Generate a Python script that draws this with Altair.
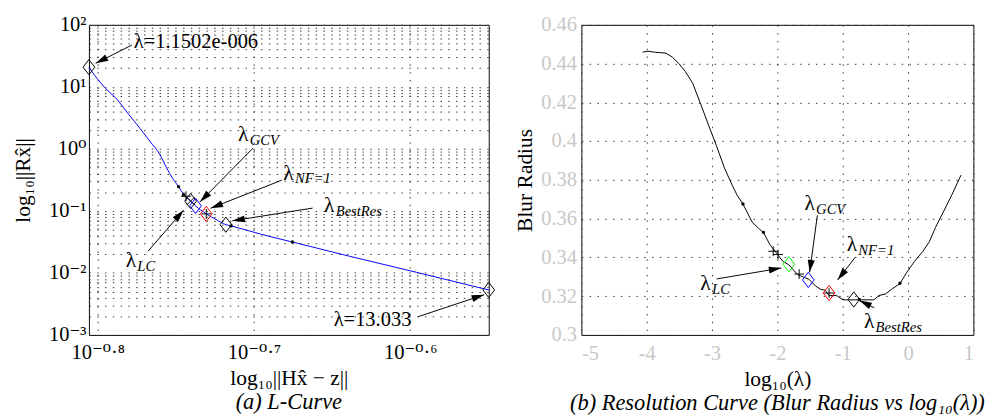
import math
import altair as alt
import pandas as pd

SERIF = "Liberation Serif, DejaVu Serif, serif"

# ---------------- (a) L-curve data ----------------
lc_resid = [0.15643, 0.15704, 0.16004, 0.16317, 0.16556, 0.16875, 0.17122, 0.17368,
            0.17533, 0.17701, 0.17853, 0.17986, 0.18173, 0.18305, 0.18597, 0.18885,
            0.19143, 0.19292, 0.20147, 0.21115, 0.22930, 0.25357, 0.28203]
lc_norm = [20.75, 17.99, 9.886, 6.152, 3.819, 2.104, 1.306, 0.8091,
           0.5035, 0.3311, 0.2460, 0.1828, 0.1440, 0.1205, 0.0895, 0.07173,
           0.05998, 0.05726, 0.04224, 0.03150, 0.01877, 0.010216, 0.005309]

lc_diam_black_x = [0.15643, 0.28203, 0.18173, 0.19143]
lc_diam_black_y = [20.75, 0.005309, 0.1440, 0.05998]
lc_diam_blue = (0.18305, 0.1205)
lc_diam_red = (0.18597, 0.0895)
lc_plus_x = [0.18048, 0.18597]
lc_plus_y = [0.1722, 0.0895]
lc_cross_x = [0.18173]
lc_cross_y = [0.1440]
lc_dot_x = [0.17853, 0.17986, 0.19292, 0.21115]
lc_dot_y = [0.2460, 0.1828, 0.05726, 0.03150]

# plain annotations: text, text x, text y, arrow tail x/y, arrow tip x/y
lc_notes_text = ["λ=1.1502e-006", "λ=13.033"]
lc_notes_tx = [0.16711, 0.22439]
lc_notes_ty = [42.4, 0.001380]
lc_notes_ax = [0.16665, 0.25420]
lc_notes_ay = [47.2, 0.001972]
lc_notes_hx = [0.15800, 0.28009]
lc_notes_hy = [23.93, 0.004446]

# lambda annotations with subscripts
lc_lam_sub = ["GCV", "NF=1", "BestRes", "LC"]
lc_lam_tx = [0.19491, 0.20834, 0.22122, 0.16513]
lc_lam_ty = [1.3215, 0.3196, 0.09478, 0.01253]
lc_lam_ax = [0.19925, 0.20786, 0.21753, 0.17076]
lc_lam_ay = [1.0290, 0.3128, 0.1109, 0.02270]
lc_lam_hx = [0.18423, 0.18716, 0.19325, 0.17984]
lc_lam_hy = [0.1390, 0.1102, 0.06918, 0.1026]

LX = [0.15643, 0.28203]
LY = [0.001, 100]
lx_ticks = [10 ** -0.8, 10 ** -0.7, 10 ** -0.6]
lx_labels = ["10⁻⁰·⁸", "10⁻⁰·⁷", "10⁻⁰·⁶"]
ly_decades = [0.001, 0.01, 0.1, 1, 10, 100]
ly_labels = ["10⁻³", "10⁻²", "10⁻¹", "10⁰", "10¹", "10²"]
ly_grid = [m * d for d in [0.001, 0.01, 0.1, 1, 10] for m in range(1, 10)] + [100]

# ---------------- (b) Resolution curve data ----------------
br_loglam = [-4.064, -3.980, -3.881, -3.706, -3.607, -3.507, -3.407, -3.297, -3.182,
             -3.06, -2.936, -2.81, -2.687, -2.612, -2.527, -2.388, -2.288, -2.213,
             -2.115, -2.015, -1.915, -1.825, -1.69, -1.518, -1.418, -1.343, -1.269,
             -1.209, -1.094, -0.995, -0.821, -0.522, -0.448, -0.348, -0.249, -0.124,
             -0.025, 0.100, 0.224, 0.324, 0.422, 0.548, 0.672, 0.811]
br_radius = [0.4459, 0.4464, 0.4459, 0.4454, 0.4433, 0.4400, 0.4358, 0.4299, 0.4198,
             0.4088, 0.3979, 0.3861, 0.3769, 0.3718, 0.3676, 0.3583, 0.3550, 0.3529,
             0.3466, 0.3423, 0.3379, 0.3362, 0.3311, 0.3287, 0.3253, 0.3236, 0.3231,
             0.3203, 0.3203, 0.3181, 0.3181, 0.3181, 0.3203, 0.3211, 0.3236, 0.3265,
             0.3320, 0.3380, 0.3430, 0.3480, 0.3556, 0.3640, 0.3724, 0.3825]

br_plus_x = [-2.064, -1.990, -1.667, -1.209]
br_plus_y = [0.34318, 0.34152, 0.33141, 0.32162]
br_diam_green = (-1.825, 0.33646)
br_diam_blue = (-1.527, 0.32838)
br_diam_red = (-1.209, 0.32162)
br_diam_black = (-0.831, 0.31828)
br_dot_x = [-2.527, -2.213, -0.746, -0.124]
br_dot_y = [0.36758, 0.35293, 0.31828, 0.32667]

br_lam_sub = ["GCV", "NF=1", "LC", "BestRes"]
br_lam_tx = [-1.587, -0.940, -3.179, -0.676]
br_lam_ty = [0.36424, 0.34318, 0.32298, 0.30364]
br_lam_ax = [-1.388, -0.810, -2.930, -0.518]
br_lam_ay = [0.36172, 0.33998, 0.32889, 0.31404]
br_lam_hx = [-1.507, -1.079, -1.940, -0.746]
br_lam_hy = [0.33232, 0.32838, 0.33451, 0.31779]

RX = [-5, 1]
RY = [0.3, 0.46]
rx_ticks = [-5, -4, -3, -2, -1, 0, 1]
ry_ticks = [0.3, 0.32, 0.34, 0.36, 0.38, 0.4, 0.42, 0.44, 0.46]

# ---------------- geometry / style ----------------
LW, LH = 410, 318
RW, RH = 402, 318
DIAMOND = "M0,-1.3L1,0L0,1.3L-1,0Z"
PLUS = "M-1,0L1,0M0,-1L0,1"
CROSS = "M-1,-1L1,1M-1,1L1,-1"
HEAD = "M0,0L0.45,1.6L-0.45,1.6Z"
GRID_DASH = [1.5, 6.5]


def lpix(x, y):
    px = (math.log10(x) - math.log10(LX[0])) / (math.log10(LX[1]) - math.log10(LX[0])) * LW
    py = (math.log10(LY[1]) - math.log10(y)) / (math.log10(LY[1]) - math.log10(LY[0])) * LH
    return px, py


def rpix(x, y):
    return (x - RX[0]) / (RX[1] - RX[0]) * RW, (RY[1] - y) / (RY[1] - RY[0]) * RH


def head_angle(pix, ax, ay, hx, hy):
    x0, y0 = pix(ax, ay)
    x1, y1 = pix(hx, hy)
    return math.degrees(math.atan2(x1 - x0, -(y1 - y0))) % 360


def label_expr(values, labels):
    expr = "''"
    for v, lab in reversed(list(zip(values, labels))):
        expr = f"abs(datum.value / {v!r} - 1) < 0.001 ? '{lab}' : ({expr})"
    return expr


def shafts_df(ax, ay, hx, hy):
    return pd.DataFrame({"x": ax, "y": ay, "x2": hx, "y2": hy})


def heads_df(ax, ay, hx, hy, pix):
    return pd.DataFrame({
        "x": hx, "y": hy,
        "ang": [head_angle(pix, a, b, c, d) for a, b, c, d in zip(ax, ay, hx, hy)],
    })


def pts(xs, ys, shape, color, size, filled=False):
    return alt.Chart(pd.DataFrame({"x": xs, "y": ys})).mark_point(
        shape=shape, filled=filled, color=color, size=size, strokeWidth=1, opacity=1)


TICK_FS = 21
TITLE_FS = 22
CAP_FS = 23
NOTE_FS = 21
LAM_FS = 22
SUB_FS = 15

# ---------------- left panel ----------------
lxs = alt.Scale(type="log", domain=LX, nice=False)
lys = alt.Scale(type="log", domain=LY, nice=False)
laxis_common = dict(labelFont=SERIF, labelFontSize=TICK_FS, labelColor="black",
                    titleFont=SERIF, titleFontSize=TITLE_FS, titleFontWeight="normal",
                    titleColor="black", domain=False, ticks=False, grid=True,
                    gridColor="#333333", gridDash=GRID_DASH, gridWidth=1,
                    labelOverlap=False)
LXE = alt.X("x:Q", scale=lxs, title="log₁₀||Hx̂ − z||",
            axis=alt.Axis(values=lx_ticks, labelExpr=label_expr(lx_ticks, lx_labels),
                          labelPadding=7, titlePadding=6, **laxis_common))
LYE = alt.Y("y:Q", scale=lys, title="log₁₀||Rx̂||",
            axis=alt.Axis(values=ly_grid, labelExpr=label_expr(ly_decades, ly_labels),
                          labelPadding=3, titlePadding=15, **laxis_common))

l_curve = alt.Chart(pd.DataFrame({"x": lc_resid, "y": lc_norm})).mark_line(
    color="#0000ff", strokeWidth=1, interpolate="monotone").encode(x=LXE, y=LYE)

l_dots = pts(lc_dot_x, lc_dot_y, "circle", "black", 12, True).encode(x=LXE, y=LYE)
l_db = pts(lc_diam_black_x, lc_diam_black_y, DIAMOND, "black", 144).encode(x=LXE, y=LYE)
l_dblue = pts([lc_diam_blue[0]], [lc_diam_blue[1]], DIAMOND, "#0000ff", 144).encode(x=LXE, y=LYE)
l_dred = pts([lc_diam_red[0]], [lc_diam_red[1]], DIAMOND, "#ff0000", 144).encode(x=LXE, y=LYE)
l_plus = pts(lc_plus_x, lc_plus_y, PLUS, "black", 100).encode(x=LXE, y=LYE)
l_cross = pts(lc_cross_x, lc_cross_y, CROSS, "black", 64).encode(x=LXE, y=LYE)

l_ax = lc_notes_ax + lc_lam_ax
l_ay = lc_notes_ay + lc_lam_ay
l_hx = lc_notes_hx + lc_lam_hx
l_hy = lc_notes_hy + lc_lam_hy
l_shaft = alt.Chart(shafts_df(l_ax, l_ay, l_hx, l_hy)).mark_rule(
    color="black", strokeWidth=1).encode(x=LXE, y=LYE, x2="x2:Q", y2="y2:Q")
l_head = alt.Chart(heads_df(l_ax, l_ay, l_hx, l_hy, lpix)).mark_point(
    shape=HEAD, filled=True, color="black", size=256, opacity=1).encode(
    x=LXE, y=LYE, angle=alt.Angle("ang:Q", scale=None))

l_txt = alt.Chart(pd.DataFrame({"x": lc_notes_tx, "y": lc_notes_ty, "t": lc_notes_text})).mark_text(
    align="left", baseline="alphabetic", font=SERIF, fontSize=NOTE_FS, color="black").encode(
    x=LXE, y=LYE, text="t:N")
l_lam_df = pd.DataFrame({"x": lc_lam_tx, "y": lc_lam_ty, "s": lc_lam_sub, "l": ["λ"] * 4})
l_lam = alt.Chart(l_lam_df).mark_text(
    align="left", baseline="alphabetic", font=SERIF, fontSize=LAM_FS, color="black").encode(
    x=LXE, y=LYE, text="l:N")
l_sub = alt.Chart(l_lam_df).mark_text(
    align="left", baseline="alphabetic", font=SERIF, fontSize=SUB_FS, fontStyle="italic",
    dx=12, dy=4, color="black").encode(x=LXE, y=LYE, text="s:N")

left = alt.layer(l_curve, l_shaft, l_head, l_dots, l_db, l_dblue, l_dred, l_plus, l_cross,
                 l_txt, l_lam, l_sub).properties(
    width=LW, height=LH,
    title=alt.TitleParams("(a)  L-Curve", orient="bottom", font=SERIF, fontSize=CAP_FS,
                          fontStyle="italic", fontWeight="normal", offset=3, anchor="middle"))

# ---------------- right panel ----------------
rxs = alt.Scale(domain=RX, nice=False, zero=False)
rys = alt.Scale(domain=RY, nice=False, zero=False)
raxis_common = dict(labelFont=SERIF, labelFontSize=TICK_FS, labelColor="#c8c8c8",
                    titleFont=SERIF, titleFontSize=TITLE_FS, titleFontWeight="normal",
                    titleColor="black", domain=False, ticks=False, grid=True,
                    gridColor="#333333", gridDash=GRID_DASH, gridWidth=1,
                    labelExpr="'' + datum.value", labelOverlap=False)
RXE = alt.X("x:Q", scale=rxs, title="log₁₀(λ)",
            axis=alt.Axis(values=rx_ticks, labelPadding=8, titlePadding=6, **raxis_common))
RYE = alt.Y("y:Q", scale=rys, title="Blur Radius",
            axis=alt.Axis(values=ry_ticks, labelPadding=5, titlePadding=4, **raxis_common))

r_curve = alt.Chart(pd.DataFrame({"x": br_loglam, "y": br_radius})).mark_line(
    color="black", strokeWidth=1).encode(x=RXE, y=RYE)
r_dots = pts(br_dot_x, br_dot_y, "circle", "black", 12, True).encode(x=RXE, y=RYE)
r_plus = pts(br_plus_x, br_plus_y, PLUS, "black", 100).encode(x=RXE, y=RYE)
r_dg = pts([br_diam_green[0]], [br_diam_green[1]], DIAMOND, "#00ff00", 144).encode(x=RXE, y=RYE)
r_db = pts([br_diam_blue[0]], [br_diam_blue[1]], DIAMOND, "#0000ff", 144).encode(x=RXE, y=RYE)
r_dr = pts([br_diam_red[0]], [br_diam_red[1]], DIAMOND, "#ff0000", 144).encode(x=RXE, y=RYE)
r_dk = pts([br_diam_black[0]], [br_diam_black[1]], DIAMOND, "black", 144).encode(x=RXE, y=RYE)

r_shaft = alt.Chart(shafts_df(br_lam_ax, br_lam_ay, br_lam_hx, br_lam_hy)).mark_rule(
    color="black", strokeWidth=1).encode(x=RXE, y=RYE, x2="x2:Q", y2="y2:Q")
r_head = alt.Chart(heads_df(br_lam_ax, br_lam_ay, br_lam_hx, br_lam_hy, rpix)).mark_point(
    shape=HEAD, filled=True, color="black", size=256, opacity=1).encode(
    x=RXE, y=RYE, angle=alt.Angle("ang:Q", scale=None))
r_lam_df = pd.DataFrame({"x": br_lam_tx, "y": br_lam_ty, "s": br_lam_sub, "l": ["λ"] * 4})
r_lam = alt.Chart(r_lam_df).mark_text(
    align="left", baseline="alphabetic", font=SERIF, fontSize=LAM_FS, color="black").encode(
    x=RXE, y=RYE, text="l:N")
r_sub = alt.Chart(r_lam_df).mark_text(
    align="left", baseline="alphabetic", font=SERIF, fontSize=SUB_FS, fontStyle="italic",
    dx=12, dy=4, color="black").encode(x=RXE, y=RYE, text="s:N")

right = alt.layer(r_curve, r_shaft, r_head, r_dots, r_plus, r_dg, r_db, r_dr, r_dk,
                  r_lam, r_sub).properties(
    width=RW, height=RH,
    title=alt.TitleParams("(b)  Resolution Curve (Blur Radius vs log₁₀(λ))", orient="bottom",
                          font=SERIF, fontSize=CAP_FS, fontStyle="italic", fontWeight="normal",
                          offset=3, anchor="middle"))

chart = alt.hconcat(left, right, spacing=16).properties(
    padding={"left": 3, "top": 0, "right": 0, "bottom": 0}
).configure_view(stroke="black", strokeWidth=1)

chart.save("out.html", embed_options={"renderer": "svg", "actions": False})
